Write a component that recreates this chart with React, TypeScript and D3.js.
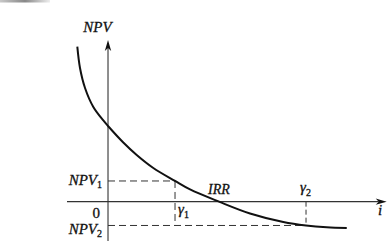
import React from "react";
import * as d3 from "d3";

// Curve data: discount rate i (in units of γ1) vs NPV (in units of NPV1)
const rates = [-0.458, -0.418, -0.343, -0.219, -0.07, 0, 0.228, 0.428, 0.676, 1, 1.224, 1.657, 2.119, 2.616, 2.955, 3.264, 3.563];
const npvs = [7.488, 6.459, 5.493, 4.575, 3.923, 3.657, 2.86, 2.256, 1.628, 1, 0.589, 0, -0.57, -0.981, -1.15, -1.237, -1.271];
const gamma1 = 1;
const gamma2 = 2.955;
const irr = 1.657;
const npv1 = 1;
const npv2 = -1.15;
const xDomain = [-0.612, 4.159];
const yDomain = [-1.90, 7.81];

const W = 387;
const H = 241;

export default function App() {
  const x = d3.scaleLinear().domain(xDomain).range([67, 386.7]);
  const y = d3.scaleLinear().domain(yDomain).range([241, 40]);
  const pts: [number, number][] = rates.map((r, k) => [r, npvs[k]]);
  const line = d3
    .line<[number, number]>()
    .x((d) => x(d[0]))
    .y((d) => y(d[1]))
    .curve(d3.curveCatmullRom.alpha(0.5));
  const x0 = x(0);
  const y0 = y(0);
  const tf: React.CSSProperties = { fontFamily: "'Liberation Serif', 'DejaVu Serif', serif" };
  const dash = "7,4";
  const ink = "#111";
  const ax = "#333";
  const xEnd = x(xDomain[1]);
  const yTop = y(yDomain[1]);
  const ts = { fill: ink, stroke: ink, strokeWidth: 0.3, style: tf };
  return (
    <svg
      width={W}
      height={H}
      style={{ position: "absolute", left: 0, top: 0, background: "#fff" }}
    >
      <defs>
        <linearGradient id="g" x1="0" x2="1">
          <stop offset="0" stopColor="#c8c8c8" />
          <stop offset="0.5" stopColor="#888" />
          <stop offset="1" stopColor="#eee" />
        </linearGradient>
      </defs>
      <rect x={0} y={0} width={50} height={2.5} fill="url(#g)" />
      {/* axes */}
      <line x1={x(xDomain[0])} y1={y0} x2={xEnd - 8} y2={y0} stroke={ax} strokeWidth={1.1} />
      <path d={`M${xEnd},${y0} L${xEnd - 11},${y0 - 3.2} L${xEnd - 8},${y0} L${xEnd - 11},${y0 + 3.2} Z`} fill={ink} />
      <line x1={x0} y1={y(yDomain[0])} x2={x0} y2={yTop + 8} stroke={ax} strokeWidth={1.1} />
      <path d={`M${x0},${yTop} L${x0 - 3.2},${yTop + 11} L${x0},${yTop + 8} L${x0 + 3.2},${yTop + 11} Z`} fill={ink} />
      {/* dashed guides */}
      <line x1={x0} y1={y(npv1)} x2={x(gamma1)} y2={y(npv1)} stroke={ax} strokeDasharray={dash} strokeWidth={1} />
      <line x1={x(gamma1)} y1={y(npv1)} x2={x(gamma1)} y2={y(npv2)} stroke={ax} strokeDasharray={dash} strokeWidth={1} />
      <line x1={x0} y1={y(npv2)} x2={x(gamma2)} y2={y(npv2)} stroke={ax} strokeDasharray={dash} strokeWidth={1} />
      <line x1={x(gamma2)} y1={y0} x2={x(gamma2)} y2={y(npv2)} stroke={ax} strokeDasharray="5,3" strokeWidth={1} />
      {/* curve */}
      <path d={line(pts) || ""} fill="none" stroke={ink} strokeWidth={2} />
      {/* labels */}
      <text x={97.5} y={31.5} textAnchor="middle" fontStyle="italic" fontSize={15} {...ts}>NPV</text>
      <text x={102} y={y(npv1) + 4.5} textAnchor="end" fontSize={15} {...ts}>
        <tspan fontStyle="italic">NPV</tspan>
        <tspan fontSize={10} dy={3}>1</tspan>
      </text>
      <text x={100} y={218} textAnchor="end" fontSize={15} {...ts}>0</text>
      <text x={102} y={y(npv2) + 8.5} textAnchor="end" fontSize={15} {...ts}>
        <tspan fontStyle="italic">NPV</tspan>
        <tspan fontSize={10} dy={3}>2</tspan>
      </text>
      <text x={x(gamma1) + 3} y={214} fontSize={15} fontStyle="italic" {...ts}>
        γ<tspan fontSize={10} dy={4} fontStyle="normal">1</tspan>
      </text>
      <text x={x(gamma2) - 6} y={192} fontSize={15} fontStyle="italic" {...ts}>
        γ<tspan fontSize={10} dy={4} fontStyle="normal">2</tspan>
      </text>
      <text x={x(irr) - 11} y={194} fontSize={14} fontStyle="italic" {...ts}>IRR</text>
      <text x={378} y={215} fontSize={15} fontStyle="italic" {...ts}>i</text>
    </svg>
  );
}
